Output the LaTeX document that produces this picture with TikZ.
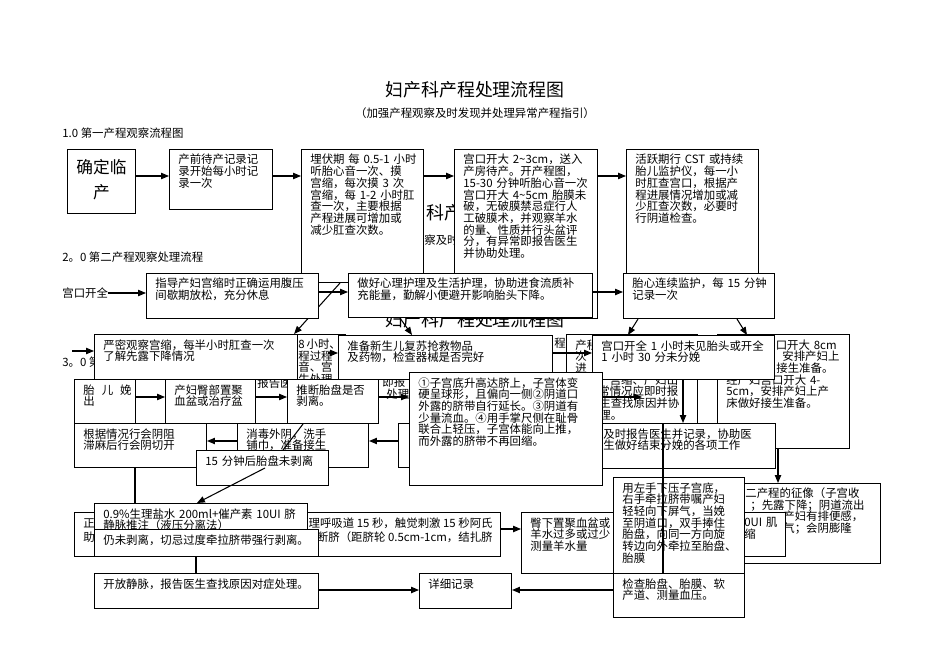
\documentclass[tikz,border=0pt]{standalone}
\usepackage{fontspec}
\setmainfont{Noto Sans CJK SC}
\usetikzlibrary{arrows.meta, calc}
\newdimen\pxu \pxu=0.02cm
\tikzset{
  pbox/.style={draw, fill=white, line width=0.6pt, inner sep=0pt, anchor=north west},
  ptext/.style={anchor=base west, inner sep=0pt, text width=#1\pxu, align=left,
    font=\fontsize{6.5}{6.65}\selectfont},
  ptext/.default=200,
  pline/.style={line width=0.6pt},
  parrow/.style={pline, -{Triangle[length=4.5pt,width=3.6pt]}},
  frag/.style={inner sep=0pt, font=\fontsize{6.5}{6.65}\selectfont},
  bigtitle/.style={inner sep=0pt, font=\fontsize{10.2}{12}\selectfont},
  subtitle/.style={inner sep=0pt, font=\fontsize{6.5}{8}\selectfont},
}
% box and its text: name, x, y, width, height, text
\newcommand\flowbox[6]{%
  \node[pbox, minimum width=#4\pxu, minimum height=#5\pxu] (#1) at (#2,#3) {};
  \node[ptext=#4] (#1-t) at ([shift={(9,15)}]#1.north west) {#6};
}

\begin{document}
\begin{tikzpicture}[x=0.02cm, y=-0.02cm]
  \useasboundingbox (0,0) rectangle (950,672);
  % row heights of the connectors
  \coordinate (r1) at (0,176);
  \coordinate (r2) at (0,292);
  \coordinate (r3) at (0,353);
  \coordinate (r4) at (0,397);
  \coordinate (r5) at (0,441);
  \coordinate (r6) at (0,529);
  \coordinate (r7) at (0,590);

  % pieces of titles left behind the boxes
  \node[bigtitle, anchor=west] (title-g1) at (426,213) {科产};
  \node[subtitle, anchor=west] (sub-g1) at (424,240) {察及时};
  \node[bigtitle] (title-g2) at (475,320) {妇产科产程处理流程图};
  \node[subtitle, anchor=west] (sub-g2) at (554,343) {程};
  \node[frag, anchor=west] (frag-a) at (257,383) {报告医};
  \node[frag, anchor=west] (frag-b) at (382,382) {即报};
  \node[frag, anchor=west] (frag-c) at (386,394) {处理};

  \node[bigtitle] (title) at (475,90) {妇产科产程处理流程图};
  \node[subtitle] (sub) at (475,113) {（加强产程观察及时发现并处理异常产程指引）};
  \node[frag, anchor=west] (h1) at (62,133) {1.0 第一产程观察流程图};

  % first stage
  \node[pbox, minimum width=68\pxu, minimum height=64\pxu] (A) at (67,149) {};
  \node[anchor=base, inner sep=0pt, text width=60\pxu, align=center,
    font=\fontsize{9.5}{14.2}\selectfont] (A-t) at ($(A.north)+(0,25)$) {确定临\\产};
  \flowbox{B}{169}{149}{103}{60}{产前待产记录记\\录开始每小时记\\录一次}
  \flowbox{C}{301}{149}{122}{133}{埋伏期 每 0.5-1 小时\\听胎心音一次、摸\\宫缩，每次摸 3 次\\宫缩，每 1-2 小时肛\\查一次，主要根据\\产程进展可增加或\\减少肛查次数。}
  \flowbox{D}{454}{149}{143}{169}{宫口开大 2\textasciitilde3cm，送入\\产房待产。开产程图，\\15-30 分钟听胎心音一次\\宫口开大 4\textasciitilde5cm 胎膜未\\破，无破膜禁忌症行人\\工破膜术，并观察羊水\\的量、性质并行头盆评\\分，有异常即报告医生\\并协助处理。}
  \flowbox{E}{626}{149}{132}{141}{活跃期行 CST 或持续\\胎儿监护仪，每一小\\时肛查宫口，根据产\\程进展情况增加或减\\少肛查次数，必要时\\行阴道检查。}
  \draw[parrow] (A.east |- r1) -- (B.west |- r1);
  \draw[parrow] (B.east |- r1) -- (C.west |- r1);
  \draw[parrow] (C.east |- r1) -- (D.west |- r1);
  \draw[parrow] (D.east |- r1) -- (E.west |- r1);

  % third stage row behind
  \node[frag, anchor=west] (h3) at (62,362) {3。0 第};
  \node[pbox, minimum width=55\pxu, minimum height=46\pxu] (J) at (290,334) {};
  \node[ptext=44] (J-t) at (298,348.5) {8\,小时、\\程过程\\音、宫\\生处理};
  \flowbox{I}{94}{334}{203}{45}{严密观察宫缩，每半小时肛查一次\\了解先露下降情况}
  \flowbox{K}{338}{335}{214}{44}{准备新生儿复苏抢救物品\\及药物，检查器械是否完好}
  \flowbox{L}{566}{334}{131}{89}{产程\\次\\进\\\hspace*{23\pxu}，宫缩、产妇出\\\hspace*{23\pxu}常情况应即时报\\\hspace*{24\pxu}生查找原因并协\\\hspace*{24\pxu}理。}
  \flowbox{N}{717}{334}{132}{114}{\hspace*{38\pxu}宫口开大 8cm\\\hspace*{56\pxu}安排产妇上\\\hspace*{50\pxu}接生准备。\\经产妇宫口开大 4-\\5cm，安排产妇上产\\床做好接生准备。}
  \flowbox{M}{592}{335}{182}{44}{宫口开全 1 小时未见胎头或开全\\1 小时 30 分未分娩}
  \draw[parrow] ($(C.south west)+(39,0)$) -- ($(I.north east)+(-4,0)$);

  % second stage
  \node[frag, anchor=west] (h2) at (62,257) {2。0 第二产程观察处理流程};
  \node[frag, anchor=west] (open) at (62,293) {宫口开全};
  \flowbox{F}{146}{273}{172}{45}{指导产妇宫缩时正确运用腹压\\间歇期放松，充分休息}
  \flowbox{G}{348}{273}{244}{44}{做好心理护理及生活护理，协助进食流质补\\充能量，勤解小便避开影响胎头下降。}
  \flowbox{H}{623}{273}{151}{45}{胎心连续监护，每 15 分钟\\记录一次}
  \draw[parrow] (open.east) -- (F.west |- open);
  \draw[parrow] (F.east |- r2) -- (G.west |- r2);
  \draw[parrow] (G.east |- r2) -- (H.west |- r2);
  \draw[parrow] ($(H.south west)+(15,0)$) -- ($(M.north west)+(36,0)$);
  \draw[parrow] ($(H.south west)+(114,0)$) -- ($(M.north west)+(155,0)$);
  \draw[parrow] ($(G.south west)+(52,0)$) -- ($(K.north west)+(74,0)$);
  \coordinate (in3) at (72,351);
  \draw[parrow] (in3) -- (I.west |- in3);
  \coordinate (j1) at (328,353);
  \draw[parrow] (j1) -- (K.west |- j1);
  \draw[parrow] (K.east |- r3) -- (M.west |- r3);

  % third stage
  \flowbox{Q}{74}{379}{61}{44}{胎\hspace{4pt}儿\hspace{4pt}娩\\出}
  \flowbox{S}{165}{379}{90}{44}{产妇臀部置聚\\血盆或治疗盆}
  \flowbox{T}{287}{379}{91}{44}{推断胎盘是否\\剥离。}
  \node[pbox, minimum width=100\pxu, minimum height=44\pxu] (W) at (398,423) {};
  \flowbox{P}{594}{423}{181}{45}{及时报告医生并记录，协助医\\生做好结束分娩的各项工作}
  \flowbox{O}{409}{372}{193}{113}{①子宫底升高达脐上，子宫体变\\硬呈球形，且偏向一侧②阴道口\\外露的脐带自行延长。③阴道有\\少量流血。④用手掌尺侧在耻骨\\联合上轻压，子宫体能向上推，\\而外露的脐带不再回缩。}
  \draw[parrow] (Q.east |- r4) -- (S.west |- r4);
  \draw[parrow] (S.east |- r4) -- (T.west |- r4);
  \draw[parrow] (T.east |- r4) -- (O.west |- r4);
  \coordinate (oa) at (642,397);
  \draw[parrow] (O.east |- r4) -- (oa);
  \draw[parrow] ($(M.south west)+(91,0)$) -- ($(P.north west)+(89,0)$);

  \flowbox{R}{74}{423}{132}{44}{根据情况行会阴阻\\滞麻后行会阴切开}
  \flowbox{U}{237}{423}{131}{44}{消毒外阴，洗手\\铺巾，准备接生}
  \draw[parrow] (W.west |- r5) -- (U.east |- r5);
  \draw[parrow] (U.west |- r5) -- (R.east |- r5);
  \coordinate (vt) at (283,450);
  \draw[pline] ($(T.south west)+(16,0)$) -- (vt);
  \flowbox{V}{196}{450}{132}{35}{15 分钟后胎盘未剥离}

  \node[pbox, minimum width=426\pxu, minimum height=44\pxu] (X) at (74,512) {};
  \node[frag, anchor=base west] (X-a) at (83,527.5) {正};
  \node[frag, anchor=base west] (X-b) at (83,541.5) {助};
  \node[frag, anchor=base east] (X-c) at (493,527.5) {理呼吸道 15 秒，触觉刺激 15 秒阿氏};
  \node[frag, anchor=base east] (X-d) at (493,541.5) {断脐（距脐轮 0.5cm-1cm，结扎脐};
  \flowbox{Y}{521}{512}{130}{61}{臀下置聚血盆或\\羊水过多或过少\\测量羊水量}
  \draw[parrow] (X.east |- r6) -- (Y.west |- r6);
  \flowbox{N9}{94}{503}{213}{40}{0.9\%生理盐水 200ml+催产素 10UI 脐\\静脉推注（液压分离法）}
  \flowbox{RW}{94}{529}{224}{27}{仍未剥离，切忌过度牵拉脐带强行剥离。}
  \draw[pline] ($(R.south west)+(61,0)$) -- ($(N9.north west)+(41,0)$);
  \draw[parrow] ($(V.north west)+(69,18)$) -- ($(N9.north west)+(103,0)$);

  \node[pbox, minimum width=150\pxu, minimum height=80\pxu] (BB) at (730,483) {};
  \node[ptext=130] (BB-t) at (745,497.5) {二产程的征像（子宫收\\\hspace*{5\pxu}；先露下降；阴道流出\\\hspace*{38\pxu}产妇有排便感，\\\hspace*{38\pxu}气；会阴膨隆};
  \node[pbox, minimum width=85\pxu, minimum height=44\pxu] (AA) at (700,512) {};
  \node[ptext=40] (AA-t) at (744,526.5) {0UI 肌\\缩};
  \flowbox{Z}{613}{477}{131}{96}{用左手下压子宫底，\\右手牵拉脐带嘱产妇\\轻轻向下屏气，当娩\\至阴道口，双手捧住\\胎盘，向同一方向旋\\转边向外牵拉至胎盘、\\胎膜}
  \draw[parrow] ($(N.south west)+(61,0)$) -- ($(BB.north west)+(48,0)$);

  \flowbox{CC}{94}{573}{224}{35}{开放静脉，报告医生查找原因对症处理。}
  \flowbox{DD}{419}{573}{92}{35}{详细记录}
  \flowbox{EE}{613}{573}{131}{44}{检查胎盘、胎膜、软\\产道、测量血压。}
  \draw[pline] ($(RW.south west)+(102,0)$) -- ($(CC.north west)+(102,0)$);
  \draw[parrow] (CC.east |- r7) -- (DD.west |- r7);
  \draw[parrow] (EE.west |- r7) -- (DD.east |- r7);
  \draw[pline] ($(P.north west)+(69,0)$) -- ($(Z.south west)+(50,0)$);
\end{tikzpicture}
\end{document}
